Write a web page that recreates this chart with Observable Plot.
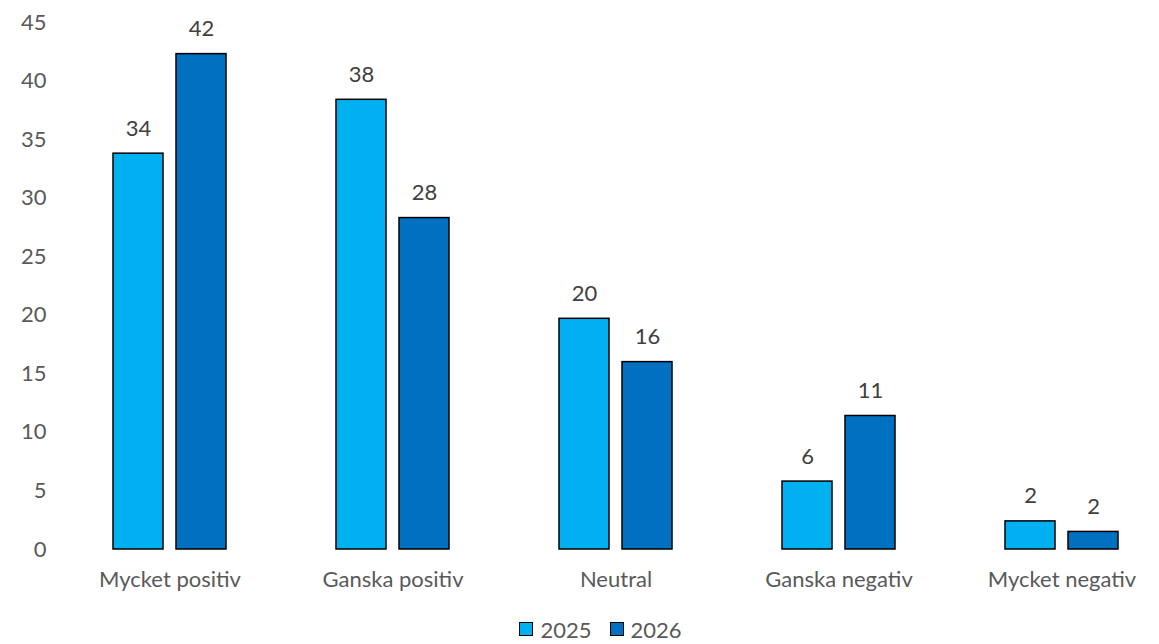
<!DOCTYPE html>
<html>
<head>
<meta charset="utf-8">
<script src="https://cdn.jsdelivr.net/npm/d3@7"></script>
<script src="https://cdn.jsdelivr.net/npm/@observablehq/plot@0.6"></script>
<style>
  body { margin: 0; background: #fff; font-family: Lato, "Open Sans", sans-serif; }
  #legend { display: flex; justify-content: center; gap: 18px; font-size: 22px; color: #595959; height: 30px; margin-top: 9px; align-items: center; padding-left: 42px; }
  #legend .item { display: flex; align-items: center; gap: 7px; }
  #legend .sw { width: 14px; height: 14px; border: 1.5px solid #000; box-sizing: border-box; }
</style>
</head>
<body>
<div id="chart"></div>
<div id="legend"></div>
<script>
const categories = ["Mycket positiv", "Ganska positiv", "Neutral", "Ganska negativ", "Mycket negativ"];
const years = ["2025", "2026"];
const values2025 = [33.8, 38.4, 19.7, 5.8, 2.4];
const values2026 = [42.3, 28.3, 16.0, 11.4, 1.5];
const colors = ["#00B0F0", "#0070C0"];
const yTicks = [0, 5, 10, 15, 20, 25, 30, 35, 40, 45];

const data = [];
categories.forEach((c, i) => {
  data.push({category: c, year: years[0], value: values2025[i]});
  data.push({category: c, year: years[1], value: values2026[i]});
});

const chart = Plot.plot({
  width: 1159,
  height: 605,
  marginTop: 22,
  marginBottom: 56,
  marginLeft: 57,
  marginRight: 0,
  style: {fontFamily: "Lato, 'Open Sans', sans-serif", fontSize: "22px", color: "#595959", overflow: "visible"},
  fx: {domain: categories, range: [57, 1173], padding: 0, label: null},
  x: {domain: years, range: [57, 280.2], paddingInner: 0.2, paddingOuter: 0.85, axis: null},
  y: {domain: [0, 45], ticks: yTicks, label: null},
  color: {domain: years, range: colors},
  marks: [
    Plot.gridY(yTicks, {stroke: "#d9d9d9", strokeOpacity: 1, strokeWidth: 1.5, x1: 57, x2: 1159}),
    Plot.axisY(yTicks, {tickSize: 0, tickPadding: 12, fontSize: 22, fill: "#595959", label: null}),
    Plot.axisFx({anchor: "bottom", tickSize: 0, tickPadding: 22, fontSize: 22, fill: "#595959", label: null}),
    Plot.barY(data, {fx: "category", x: "year", y: "value", fill: "year", stroke: "#000", strokeWidth: 1.5}),
    Plot.text(data, {fx: "category", x: "year", y: "value", text: d => String(Math.round(d.value)), lineAnchor: "bottom", dy: -18, fontSize: 22, fill: "#404040"})
  ]
});
document.getElementById("chart").appendChild(chart);

const legend = document.getElementById("legend");
years.forEach((y, i) => {
  const item = document.createElement("div");
  item.className = "item";
  const sw = document.createElement("div");
  sw.className = "sw";
  sw.style.background = colors[i];
  const t = document.createElement("span");
  t.textContent = y;
  item.appendChild(sw);
  item.appendChild(t);
  legend.appendChild(item);
});
</script>
</body>
</html>
